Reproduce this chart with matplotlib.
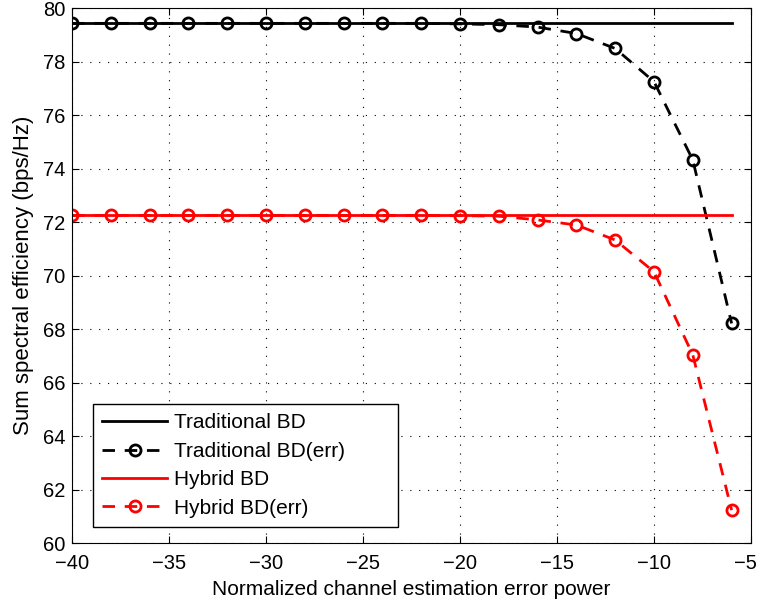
import numpy as np
import matplotlib
matplotlib.use('Agg')
import matplotlib.pyplot as plt
import matplotlib.transforms as mtransforms

plt.rcParams['font.family'] = ['Liberation Sans', 'DejaVu Sans']

# error power sweep (dB)
err_power = np.arange(-40, -5, 2)

trad_bd = 79.43
hybrid_bd = 72.25

trad_bd_err = [79.43, 79.43, 79.43, 79.43, 79.43, 79.43, 79.43, 79.43, 79.43, 79.43,
               79.41, 79.38, 79.29, 79.05, 78.49, 77.25, 74.32, 68.21]
hybrid_bd_err = [72.25, 72.25, 72.25, 72.25, 72.25, 72.25, 72.25, 72.25, 72.25, 72.25,
                 72.24, 72.22, 72.08, 71.89, 71.33, 70.14, 67.03, 61.23]

fig = plt.figure(figsize=(7.57, 6.01), dpi=100)
ax = fig.add_axes([0.0951, 0.0965, 0.897, 0.890])

dash = (0, (4.5, 3.5))
ax.plot(err_power, np.full(len(err_power), trad_bd), '-', color='k', lw=2,
        label='Traditional BD')
ax.plot(err_power, trad_bd_err, linestyle=dash, color='k', lw=2, marker='o',
        ms=8, mfc='none', mew=2, label='Traditional BD(err)')
ax.plot(err_power, np.full(len(err_power), hybrid_bd), '-', color='r', lw=2,
        label='Hybrid BD')
ax.plot(err_power, hybrid_bd_err, linestyle=dash, color='r', lw=2, marker='o',
        ms=8, mfc='none', mew=2, label='Hybrid BD(err)')

ax.set_xlim(-40, -5)
ax.set_ylim(60, 80)
ax.set_xticks(np.arange(-40, -4, 5))
ax.set_yticks(np.arange(60, 81, 2))
ax.grid(True, linestyle=(0, (1, 7)), color='k', lw=0.8)
ax.tick_params(direction='in', length=5, labelsize=14.5, top=True, right=True,
               labeltop=False, labelright=False)
ax.tick_params(axis='x', pad=8)
ax.tick_params(axis='y', pad=5)
for sp in ax.spines.values():
    sp.set_linewidth(0.8)

# keep the last x tick label inside the figure
fig.canvas.draw()
last = ax.get_xticklabels()[-1]
last.set_transform(last.get_transform() +
                   mtransforms.ScaledTranslation(-0.06, 0, fig.dpi_scale_trans))

ax.set_xlabel('Normalized channel estimation error power', fontsize=15,
              labelpad=5)
ax.set_ylabel('Sum spectral efficiency (bps/Hz)', fontsize=16, labelpad=6)

leg = ax.legend(loc='lower left', bbox_to_anchor=(0.031, 0.03, 0.449, 0.0),
                mode='expand', fontsize=15, numpoints=1, handlelength=3.1,
                handletextpad=0.32, borderaxespad=0, fancybox=False,
                framealpha=1, edgecolor='k', labelspacing=0.45, borderpad=0.45)
leg.get_frame().set_linewidth(1)

fig.savefig('out.png', dpi=100)
